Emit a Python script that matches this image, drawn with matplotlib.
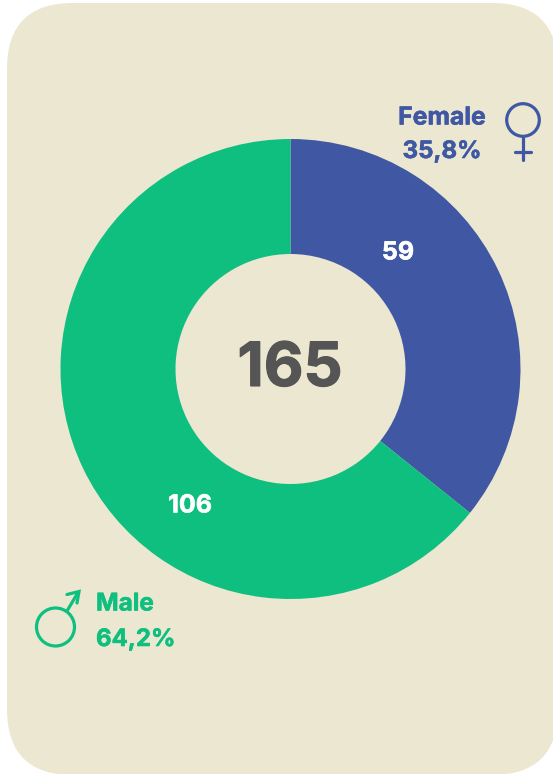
import matplotlib
matplotlib.use('Agg')
import matplotlib.pyplot as plt
import matplotlib.patheffects as pe
from matplotlib.patches import FancyBboxPatch, Circle

labels = ['Female', 'Male']
counts = [59, 106]
shares = ['35,8%', '64,2%']
total = '165'
colors = ['#4058A3', '#0FBF7F']
bg = '#EBE7D0'
dark = '#555555'

plt.rcParams['font.family'] = ['Inter', 'Liberation Sans', 'DejaVu Sans']

fig = plt.figure(figsize=(5.53, 7.74), dpi=100)

# background layer in pixel coordinates, the card runs slightly off the right edge
ax = fig.add_axes([0, 0, 1, 1])
ax.set_xlim(0, 553)
ax.set_ylim(774, 0)
ax.axis('off')

r = 66
ax.add_patch(FancyBboxPatch((7 + r, 3 + r), 551 - 2 * r, 772 - 2 * r,
                            boxstyle=f'round,pad={r},rounding_size={r}',
                            fc=bg, ec='none', zorder=0))

# donut
cx, cy, rad = 290.5, 369, 230
ax2 = fig.add_axes([(cx - rad) / 553, 1 - (cy + rad) / 774, 2 * rad / 553, 2 * rad / 774])
ax2.pie(counts, colors=colors, startangle=90, counterclock=False, radius=1,
        wedgeprops=dict(width=0.5, edgecolor='none'))
ax2.set_xlim(-1, 1)
ax2.set_ylim(-1, 1)
ax2.set_zorder(1)
ax2.patch.set_alpha(0)

# text layer on top of the donut
ax3 = fig.add_axes([0, 0, 1, 1])
ax3.set_xlim(0, 553)
ax3.set_ylim(774, 0)
ax3.axis('off')
ax3.set_zorder(2)


def bold_text(x, y, s, color, size, ha='center', extra=0.4):
    # the bundled weight is a bit lighter than the reference, so thicken it
    t = ax3.text(x, y, s, color=color, fontsize=size, fontweight='bold', ha=ha, va='center')
    t.set_path_effects([pe.withStroke(linewidth=extra, foreground=color)])
    return t


bold_text(290, 370, total, dark, 44, extra=0.8)
bold_text(398, 253, str(counts[0]), 'white', 18)
bold_text(190, 506, str(counts[1]), 'white', 18)

bold_text(442, 118, labels[0], colors[0], 17.8)
bold_text(442, 152, shares[0], colors[0], 17.3)
bold_text(96, 604, labels[1], colors[1], 17.5, ha='left')
bold_text(96, 640, shares[1], colors[1], 17.3, ha='left')

# female symbol
lw = 2.3
ax3.add_patch(Circle((523, 120), 16.3, fc='none', ec=colors[0], lw=lw))
ax3.plot([523, 523], [137, 160], color=colors[0], lw=lw, solid_capstyle='round')
ax3.plot([515, 531], [151.5, 151.5], color=colors[0], lw=lw, solid_capstyle='round')

# male symbol
ax3.add_patch(Circle((55.5, 627), 19, fc='none', ec=colors[1], lw=lw))
ax3.plot([67, 78], [611, 592.5], color=colors[1], lw=lw, solid_capstyle='round')
ax3.plot([67, 79, 77], [594.5, 591.5, 603], color=colors[1], lw=lw,
         solid_capstyle='round', solid_joinstyle='miter')

fig.savefig('out.png', dpi=100)
